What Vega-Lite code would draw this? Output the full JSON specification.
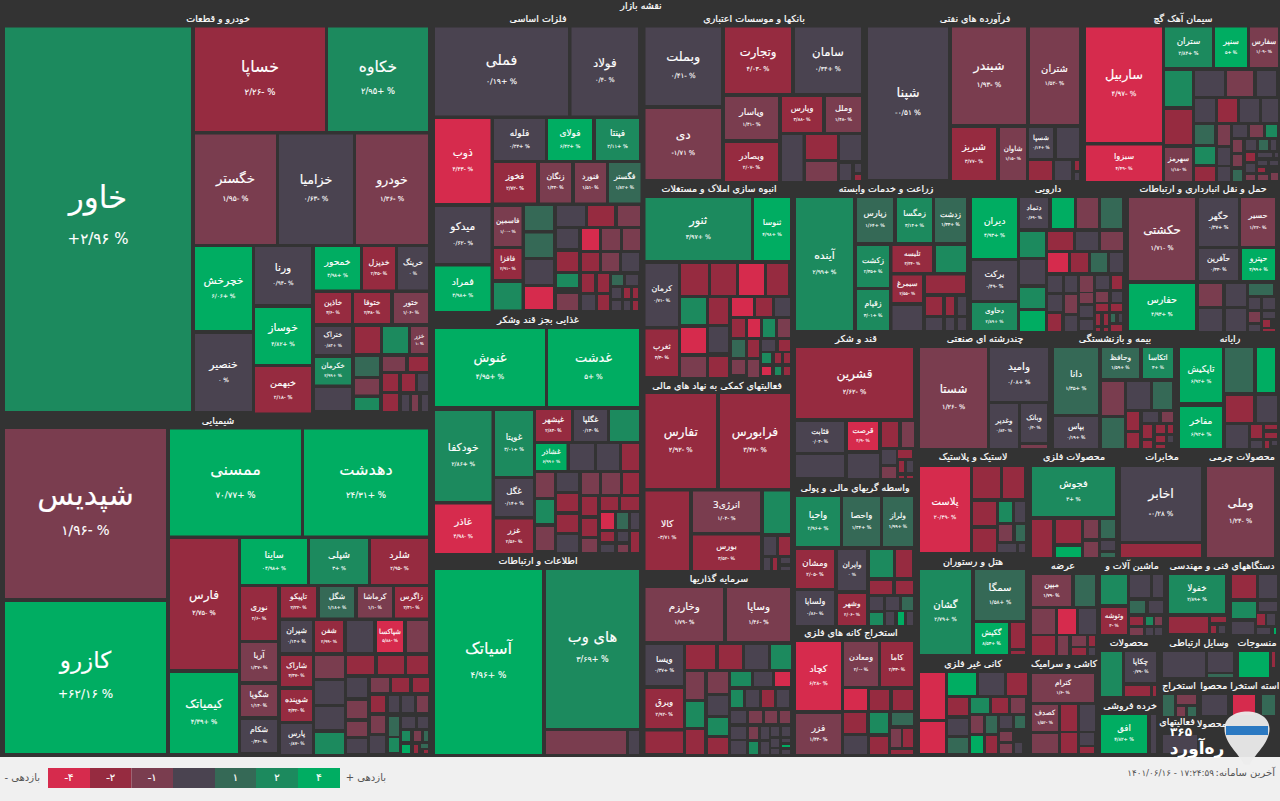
{"$schema":"https://vega.github.io/schema/vega-lite/v6.json","width":1280,"height":801,"padding":0,"autosize":{"type":"fit","contains":"padding"},"background":"#f0f0f0","view":{"stroke":null},
"resolve":{"scale":{"size":"independent"}},
"datasets":{
"panel":[{"x0":0,"x1":1280,"y0":0,"y1":757}],
"cells":[
{"x0":5,"x1":191,"y0":27.5,"y1":411,"c":2.96,"n":"خاور","p":"+۲/۹۶ %"},
{"x0":195,"x1":325,"y0":27.5,"y1":131,"c":-2.26,"n":"خساپا","p":"۲/۲۶- %"},
{"x0":328,"x1":428,"y0":27.5,"y1":131,"c":2.95,"n":"خکاوه","p":"۲/۹۵+ %"},
{"x0":195,"x1":276,"y0":134.5,"y1":244,"c":-1.95,"n":"خگستر","p":"۱/۹۵- %"},
{"x0":279,"x1":353,"y0":134.5,"y1":244,"c":-0.63,"n":"خزامیا","p":"۰/۶۳- %"},
{"x0":356,"x1":428,"y0":134.5,"y1":244,"c":-1.36,"n":"خودرو","p":"۱/۳۶- %"},
{"x0":195,"x1":252,"y0":247,"y1":330,"c":6.06,"n":"خچرخش","p":"۶/۰۶+ %"},
{"x0":195,"x1":252,"y0":334,"y1":411,"c":0,"n":"خنصیر","p":"۰ %"},
{"x0":255,"x1":311,"y0":247,"y1":304,"c":-0.94,"n":"ورنا","p":"۰/۹۴- %"},
{"x0":255,"x1":311,"y0":308,"y1":364,"c":4.82,"n":"خوساز","p":"۴/۸۲+ %"},
{"x0":255,"x1":311,"y0":367,"y1":412.5,"c":-2.18,"n":"خبهمن","p":"۲/۱۸- %"},
{"x0":315,"x1":360,"y0":247,"y1":289.5,"c":4.98,"n":"خمحور","p":"۴/۹۸+ %"},
{"x0":363,"x1":395,"y0":247,"y1":289.5,"c":-2.45,"n":"خدیزل","p":"۲/۴۵- %"},
{"x0":398,"x1":428,"y0":247,"y1":289.5,"c":0,"n":"خرینگ","p":"۰ %"},
{"x0":315,"x1":351,"y0":293,"y1":323,"c":-3.6,"n":"خاذین","p":"۳/۶- %"},
{"x0":354,"x1":390,"y0":293,"y1":323,"c":-2.38,"n":"ختوقا","p":"۲/۳۸- %"},
{"x0":394,"x1":428,"y0":293,"y1":323,"c":-1.06,"n":"ختور","p":"۱/۰۶- %"},
{"x0":315,"x1":351,"y0":327,"y1":354,"c":0.83,"n":"ختراک","p":"۰/۸۳+ %"},
{"x0":355,"x1":380,"y0":327,"y1":353,"c":-3},
{"x0":383,"x1":408,"y0":327,"y1":353,"c":3},
{"x0":411,"x1":428,"y0":327,"y1":353,"c":-1.1,"n":"خزر","p":"۱- %"},
{"x0":315,"x1":351,"y0":358,"y1":384.5,"c":2.99,"n":"خکرمان","p":"۲/۹۹+ %"},
{"x0":315,"x1":351,"y0":388,"y1":410,"c":0},
{"x0":355,"x1":379,"y0":357,"y1":376,"c":1.5},
{"x0":355,"x1":379,"y0":379,"y1":394.5,"c":-1.5},
{"x0":355,"x1":379,"y0":398,"y1":410,"c":3},
{"x0":383,"x1":405,"y0":357,"y1":371,"c":-1.5},
{"x0":409,"x1":428,"y0":357,"y1":371,"c":-3},
{"x0":383,"x1":398,"y0":374,"y1":391,"c":-3},
{"x0":402,"x1":415,"y0":374,"y1":391,"c":-3},
{"x0":418,"x1":428,"y0":374,"y1":391,"c":0},
{"x0":383,"x1":398,"y0":394,"y1":411,"c":-3},
{"x0":402,"x1":409,"y0":395,"y1":411,"c":0},
{"x0":412,"x1":418,"y0":395,"y1":411,"c":-1.5},
{"x0":422,"x1":428,"y0":395,"y1":411,"c":0},

{"x0":5,"x1":166,"y0":429,"y1":598,"c":-1.96,"n":"شپدیس","p":"۱/۹۶- %"},
{"x0":5,"x1":166,"y0":602,"y1":753,"c":62.16,"n":"کازرو","p":"+۶۲/۱۶ %"},
{"x0":170,"x1":301,"y0":429.5,"y1":535.5,"c":70.77,"n":"ممسنی","p":"۷۰/۷۷+ %"},
{"x0":304,"x1":428,"y0":429.5,"y1":535.5,"c":24.31,"n":"دهدشت","p":"۲۴/۳۱+ %"},
{"x0":170,"x1":238,"y0":539,"y1":669,"c":-2.75,"n":"فارس","p":"۲/۷۵- %"},
{"x0":170,"x1":238,"y0":673,"y1":753,"c":4.39,"n":"کیمیاتک","p":"۴/۳۹+ %"},
{"x0":241,"x1":307,"y0":539,"y1":584,"c":4.98,"n":"ساینا","p":"۰۴/۹۸+ %"},
{"x0":310,"x1":368,"y0":539,"y1":584,"c":3,"n":"شپلی","p":"۳+ %"},
{"x0":371,"x1":428,"y0":539,"y1":584,"c":-2.95,"n":"شلرد","p":"۲/۹۵- %"},
{"x0":241,"x1":277,"y0":587,"y1":640,"c":-2.6,"n":"نوری","p":"۲/۶- %"},
{"x0":281,"x1":316,"y0":587,"y1":617.5,"c":-2.22,"n":"تاپیکو","p":"۲/۲۲- %"},
{"x0":320,"x1":354,"y0":587,"y1":617.5,"c":1.18,"n":"شگل","p":"۱/۱۸+ %"},
{"x0":358,"x1":392,"y0":587,"y1":617.5,"c":-1.1,"n":"کرماشا","p":"۱/۱- %"},
{"x0":395,"x1":428,"y0":587,"y1":617.5,"c":-2.41,"n":"زاگرس","p":"۲/۴۱- %"},
{"x0":281,"x1":312,"y0":621,"y1":652,"c":0.14,"n":"شیران","p":"۰/۱۴+ %"},
{"x0":315,"x1":343,"y0":621,"y1":652,"c":-2.99,"n":"شفن","p":"۲/۹۹- %"},
{"x0":347,"x1":373,"y0":621,"y1":652,"c":0},
{"x0":377,"x1":403,"y0":621,"y1":652,"c":-5.88,"n":"شپاکسا","p":"۵/۸۸- %"},
{"x0":407,"x1":428,"y0":621,"y1":652,"c":-1.5},
{"x0":241,"x1":277,"y0":643,"y1":681,"c":-1.37,"n":"آریا","p":"۱/۳۷- %"},
{"x0":241,"x1":277,"y0":685,"y1":716,"c":-1.14,"n":"شگویا","p":"۱/۱۴- %"},
{"x0":241,"x1":277,"y0":720,"y1":752,"c":-0.36,"n":"شکام","p":"۰/۳۶- %"},
{"x0":281,"x1":312,"y0":656,"y1":686,"c":-3.47,"n":"شاراک","p":"۳/۴۷- %"},
{"x0":281,"x1":312,"y0":690,"y1":721,"c":-3.32,"n":"شوینده","p":"۳/۳۲- %"},
{"x0":281,"x1":312,"y0":724,"y1":754,"c":-0.87,"n":"پارس","p":"۰/۸۷- %"},
{"x0":315,"x1":344,"y0":656,"y1":678,"c":-1.5},
{"x0":315,"x1":344,"y0":681,"y1":704,"c":0},
{"x0":315,"x1":344,"y0":707,"y1":729,"c":0},
{"x0":315,"x1":344,"y0":733,"y1":754,"c":3},
{"x0":347,"x1":374,"y0":656,"y1":674,"c":-3},
{"x0":378,"x1":404,"y0":656,"y1":674,"c":-3},
{"x0":407,"x1":428,"y0":656,"y1":674,"c":-3},
{"x0":347,"x1":367,"y0":678,"y1":697,"c":0},
{"x0":371,"x1":389,"y0":678,"y1":692,"c":-1.5},
{"x0":392,"x1":409,"y0":678,"y1":692,"c":-3},
{"x0":413,"x1":429,"y0":678,"y1":692,"c":-3},
{"x0":347,"x1":367,"y0":701,"y1":718,"c":-1.5},
{"x0":347,"x1":367,"y0":722,"y1":736,"c":-1.5},
{"x0":347,"x1":367,"y0":739,"y1":753,"c":0},
{"x0":371,"x1":385,"y0":696,"y1":712,"c":-3},
{"x0":389,"x1":399,"y0":696,"y1":712,"c":0},
{"x0":402,"x1":414,"y0":696,"y1":712,"c":0},
{"x0":417,"x1":428,"y0":696,"y1":712,"c":-1.5},
{"x0":371,"x1":385,"y0":716,"y1":733,"c":-1.5},
{"x0":370,"x1":385,"y0":736,"y1":753,"c":0},
{"x0":389,"x1":399,"y0":717,"y1":736,"c":1.5},
{"x0":389,"x1":399,"y0":738,"y1":752,"c":3},
{"x0":402,"x1":415,"y0":717,"y1":728,"c":0},
{"x0":418,"x1":428,"y0":717,"y1":728,"c":0},
{"x0":402,"x1":410,"y0":731,"y1":741,"c":3},
{"x0":414,"x1":421,"y0":731,"y1":741,"c":-1.5},
{"x0":424,"x1":428,"y0":731,"y1":741,"c":1.5},
{"x0":402,"x1":410,"y0":745,"y1":753,"c":5},
{"x0":414,"x1":418,"y0":745,"y1":753,"c":-3},
{"x0":421,"x1":428,"y0":744,"y1":748,"c":1.5},
{"x0":424,"x1":428,"y0":750,"y1":753,"c":-3},

{"x0":435,"x1":568,"y0":27.5,"y1":115.5,"c":0.19,"n":"فملی","p":"۰/۱۹+ %"},
{"x0":571.5,"x1":638,"y0":27.5,"y1":115.5,"c":-0.4,"n":"فولاد","p":"۰/۴- %"},
{"x0":435,"x1":490.5,"y0":119,"y1":203,"c":-4.43,"n":"ذوب","p":"۴/۴۳- %"},
{"x0":494,"x1":545,"y0":119,"y1":160,"c":0.34,"n":"فلوله","p":"۰/۳۴+ %"},
{"x0":548,"x1":592,"y0":119,"y1":160,"c":6.42,"n":"فولای","p":"۶/۴۲+ %"},
{"x0":596,"x1":639,"y0":119,"y1":160,"c":2.11,"n":"فپنتا","p":"۲/۱۱+ %"},
{"x0":494,"x1":536,"y0":163,"y1":202.5,"c":-2.72,"n":"فخوز","p":"۲/۷۲- %"},
{"x0":540,"x1":571,"y0":163,"y1":202.5,"c":-1.44,"n":"زنگان","p":"۱/۴۴- %"},
{"x0":575,"x1":606,"y0":163,"y1":202.5,"c":-1.51,"n":"فنورد","p":"۱/۵۱- %"},
{"x0":609,"x1":640.5,"y0":163,"y1":202.5,"c":1.82,"n":"فگستر","p":"۱/۸۲+ %"},
{"x0":435,"x1":490.5,"y0":207,"y1":263,"c":-0.62,"n":"میدکو","p":"۰/۶۲- %"},
{"x0":435,"x1":490.5,"y0":266.5,"y1":311,"c":4.98,"n":"فمراد","p":"۴/۹۸+ %"},
{"x0":494,"x1":521.5,"y0":207,"y1":246,"c":-1.1,"n":"فاسمین","p":"۱/۰۰- %"},
{"x0":494,"x1":521.5,"y0":249,"y1":279,"c":-2.91,"n":"فافزا","p":"۲/۹۱- %"},
{"x0":494,"x1":521.5,"y0":283,"y1":309.5,"c":3},
{"x0":525,"x1":553,"y0":206,"y1":230,"c":1.5},
{"x0":525,"x1":553,"y0":233.5,"y1":257,"c":1.5},
{"x0":525,"x1":553,"y0":260,"y1":284,"c":0},
{"x0":525,"x1":553,"y0":287,"y1":309,"c":-5},
{"x0":557,"x1":585,"y0":206,"y1":226,"c":0},
{"x0":588,"x1":614,"y0":206,"y1":226,"c":-3},
{"x0":618,"x1":640,"y0":206,"y1":226,"c":-1.5},
{"x0":557,"x1":578,"y0":229,"y1":248,"c":0},
{"x0":582,"x1":599,"y0":229,"y1":250,"c":-5},
{"x0":602,"x1":620,"y0":229,"y1":250,"c":-1.5},
{"x0":623,"x1":640,"y0":229,"y1":250,"c":-1.5},
{"x0":557,"x1":578,"y0":252,"y1":271,"c":-3},
{"x0":582,"x1":599,"y0":253,"y1":271,"c":-3},
{"x0":602,"x1":619,"y0":253,"y1":271,"c":-1.5},
{"x0":622,"x1":639,"y0":253,"y1":271,"c":0},
{"x0":557,"x1":578,"y0":274,"y1":287,"c":3},
{"x0":582,"x1":594,"y0":274,"y1":292,"c":-3},
{"x0":598,"x1":609,"y0":274,"y1":292,"c":-3},
{"x0":612,"x1":623,"y0":275,"y1":285,"c":1.5},
{"x0":626,"x1":638,"y0":275,"y1":285,"c":0},
{"x0":557,"x1":578,"y0":294,"y1":310,"c":-1.5},
{"x0":582,"x1":595,"y0":295,"y1":310,"c":0},
{"x0":598,"x1":609,"y0":295,"y1":310,"c":-3},
{"x0":612,"x1":621,"y0":288,"y1":298,"c":0},
{"x0":624,"x1":630,"y0":288,"y1":298,"c":-3},
{"x0":633,"x1":638,"y0":288,"y1":298,"c":-3},
{"x0":612,"x1":621,"y0":301,"y1":310,"c":0},
{"x0":624,"x1":630,"y0":301,"y1":310,"c":0},
{"x0":633,"x1":638,"y0":301,"y1":310,"c":-3},

{"x0":435,"x1":545,"y0":329,"y1":406,"c":4.95,"n":"غنوش","p":"۴/۹۵+ %"},
{"x0":548,"x1":639,"y0":329,"y1":406,"c":5,"n":"غدشت","p":"۵+ %"},
{"x0":435,"x1":491.5,"y0":411,"y1":501,"c":2.86,"n":"خودکفا","p":"۲/۸۶+ %"},
{"x0":435,"x1":491.5,"y0":504.5,"y1":553,"c":-4.98,"n":"غاذر","p":"۴/۹۸- %"},
{"x0":495,"x1":533,"y0":411,"y1":476,"c":3.01,"n":"غویتا","p":"۳/۰۱+ %"},
{"x0":495,"x1":533,"y0":479,"y1":516,"c":0.14,"n":"غگل","p":"۰/۱۴+ %"},
{"x0":495,"x1":533,"y0":519.5,"y1":553,"c":-2.56,"n":"غزر","p":"۲/۵۶- %"},
{"x0":536,"x1":571,"y0":410,"y1":441,"c":-2.84,"n":"غیشهر","p":"۲/۸۴- %"},
{"x0":574,"x1":607,"y0":410,"y1":441,"c":-0.13,"n":"غگلپا","p":"۰/۱۳- %"},
{"x0":610,"x1":639,"y0":410,"y1":441,"c":3},
{"x0":536,"x1":566.5,"y0":444,"y1":470,"c":6.99,"n":"غشاذر","p":"۶/۹۹+ %"},
{"x0":570,"x1":594,"y0":444,"y1":470,"c":0},
{"x0":597,"x1":619,"y0":444,"y1":470,"c":0},
{"x0":622,"x1":639,"y0":444,"y1":470,"c":-3},
{"x0":536,"x1":554,"y0":473,"y1":497,"c":-1.5},
{"x0":557,"x1":578,"y0":473,"y1":491,"c":0},
{"x0":582,"x1":599,"y0":473,"y1":494,"c":-1.5},
{"x0":602,"x1":620,"y0":473,"y1":494,"c":-1.5},
{"x0":623,"x1":639,"y0":473,"y1":494,"c":-3},
{"x0":536,"x1":554,"y0":500,"y1":523,"c":3},
{"x0":557,"x1":578,"y0":494,"y1":511,"c":-3},
{"x0":582,"x1":597,"y0":497,"y1":515,"c":-3},
{"x0":601,"x1":618,"y0":497,"y1":510,"c":-3},
{"x0":621,"x1":639,"y0":497,"y1":510,"c":-3},
{"x0":536,"x1":554,"y0":527,"y1":550,"c":-1.5},
{"x0":557,"x1":578,"y0":515,"y1":532,"c":-3},
{"x0":557,"x1":578,"y0":535,"y1":552,"c":0},
{"x0":582,"x1":597,"y0":519,"y1":536,"c":-3},
{"x0":582,"x1":597,"y0":539,"y1":552,"c":-1.5},
{"x0":601,"x1":614,"y0":513,"y1":529,"c":-5},
{"x0":617,"x1":628,"y0":513,"y1":529,"c":1.5},
{"x0":631,"x1":639,"y0":513,"y1":529,"c":0},
{"x0":601,"x1":614,"y0":532,"y1":541,"c":-3},
{"x0":618,"x1":628,"y0":532,"y1":541,"c":0},
{"x0":631,"x1":639,"y0":532,"y1":552,"c":-3},
{"x0":601,"x1":614,"y0":545,"y1":552,"c":0},
{"x0":618,"x1":628,"y0":545,"y1":552,"c":-1.5},

{"x0":435,"x1":542,"y0":570,"y1":754,"c":4.96,"n":"آسیاتک","p":"۴/۹۶+ %"},
{"x0":546,"x1":639,"y0":570,"y1":728,"c":3.69,"n":"های وب","p":"۳/۶۹+ %"},
{"x0":546,"x1":626,"y0":731,"y1":754,"c":-1.5},
{"x0":629,"x1":639,"y0":731,"y1":754,"c":0},

{"x0":645.5,"x1":721,"y0":27.5,"y1":105,"c":-0.41,"n":"وبملت","p":"۰/۴۱- %"},
{"x0":645.5,"x1":721,"y0":109,"y1":179,"c":-1.71,"n":"دی","p":"-۱/۷۱ %"},
{"x0":725,"x1":791,"y0":27.5,"y1":93,"c":-3.03,"n":"وتجارت","p":"۴/۰۳- %"},
{"x0":795,"x1":861,"y0":27.5,"y1":93,"c":0.34,"n":"سامان","p":"۰/۳۴+ %"},
{"x0":725,"x1":778,"y0":97,"y1":139,"c":-1.41,"n":"ویاسار","p":"۱/۴۱- %"},
{"x0":782,"x1":822,"y0":97,"y1":132,"c":-3.88,"n":"وپارس","p":"۳/۸۸- %"},
{"x0":826,"x1":861,"y0":97,"y1":132,"c":-1.48,"n":"وملل","p":"۱/۴۸- %"},
{"x0":725,"x1":778,"y0":143,"y1":181,"c":-2.07,"n":"وبصادر","p":"۲/۰۷- %"},
{"x0":782,"x1":802.5,"y0":135,"y1":181,"c":0},
{"x0":806,"x1":837,"y0":135,"y1":159,"c":-3},
{"x0":840,"x1":861,"y0":135,"y1":160,"c":0},
{"x0":806,"x1":837,"y0":162,"y1":181,"c":-1.5},
{"x0":840,"x1":851,"y0":164,"y1":180,"c":0},
{"x0":855,"x1":861,"y0":164,"y1":172,"c":0},
{"x0":855,"x1":861,"y0":175,"y1":180,"c":-3},

{"x0":645.5,"x1":751,"y0":198,"y1":260,"c":3.97,"n":"ثنور","p":"۳/۹۷+ %"},
{"x0":754,"x1":790,"y0":198,"y1":260,"c":4.98,"n":"ثنوسا","p":"۴/۹۸+ %"},
{"x0":645.5,"x1":678,"y0":264,"y1":326,"c":-0.71,"n":"کرمان","p":"۰/۷۱- %"},
{"x0":645.5,"x1":678,"y0":329.5,"y1":376,"c":-3.3,"n":"ثغرب","p":"۳/۳- %"},
{"x0":681,"x1":708,"y0":264,"y1":295,"c":-3},
{"x0":711,"x1":736,"y0":264,"y1":295,"c":-3},
{"x0":739,"x1":764,"y0":264,"y1":295,"c":-5},
{"x0":767,"x1":788,"y0":264,"y1":295,"c":-3},
{"x0":681,"x1":706,"y0":298,"y1":324,"c":3},
{"x0":709,"x1":728,"y0":298,"y1":324,"c":-3},
{"x0":732,"x1":753,"y0":298,"y1":316,"c":-5},
{"x0":756,"x1":772,"y0":298,"y1":316,"c":-3},
{"x0":775,"x1":790,"y0":298,"y1":316,"c":0},
{"x0":681,"x1":706,"y0":328,"y1":353,"c":-5},
{"x0":709,"x1":728,"y0":327,"y1":352,"c":0},
{"x0":732,"x1":745,"y0":319,"y1":337,"c":-3},
{"x0":748,"x1":760,"y0":319,"y1":337,"c":-5},
{"x0":763,"x1":775,"y0":319,"y1":337,"c":3},
{"x0":778,"x1":790,"y0":319,"y1":337,"c":-1.5},
{"x0":732,"x1":745,"y0":340,"y1":357,"c":1.5},
{"x0":748,"x1":759,"y0":340,"y1":357,"c":-3},
{"x0":762,"x1":775,"y0":340,"y1":351,"c":0},
{"x0":779,"x1":790,"y0":340,"y1":351,"c":-3},
{"x0":681,"x1":706,"y0":357,"y1":377,"c":-1.5},
{"x0":709,"x1":728,"y0":357,"y1":377,"c":-3},
{"x0":732,"x1":745,"y0":360,"y1":374,"c":-1.5},
{"x0":748,"x1":759,"y0":360,"y1":377,"c":-1.5},
{"x0":762,"x1":771,"y0":353,"y1":363,"c":3},
{"x0":775,"x1":781,"y0":353,"y1":363,"c":-3},
{"x0":784,"x1":790,"y0":353,"y1":363,"c":-3},
{"x0":762,"x1":771,"y0":367,"y1":375,"c":-5},
{"x0":775,"x1":781,"y0":367,"y1":375,"c":3},
{"x0":784,"x1":790,"y0":367,"y1":375,"c":-3},

{"x0":645.5,"x1":716,"y0":394,"y1":488,"c":-2.92,"n":"تفارس","p":"۲/۹۲- %"},
{"x0":720,"x1":790,"y0":394,"y1":488,"c":-3.47,"n":"فرابورس","p":"۳/۴۷- %"},
{"x0":645.5,"x1":689,"y0":491.5,"y1":570,"c":-3.71,"n":"کالا","p":"-۳/۷۱ %"},
{"x0":693,"x1":760,"y0":491.5,"y1":532,"c":-1.04,"n":"انرژی3","p":"۱/۰۴- %"},
{"x0":764,"x1":790,"y0":491.5,"y1":533,"c":3},
{"x0":693,"x1":760,"y0":535.5,"y1":570,"c":-3.52,"n":"بورس","p":"۳/۵۲- %"},
{"x0":764,"x1":776,"y0":537,"y1":555,"c":0},
{"x0":779,"x1":790,"y0":537,"y1":555,"c":-3},
{"x0":764,"x1":770,"y0":558,"y1":570,"c":0},
{"x0":773,"x1":777,"y0":558,"y1":570,"c":-3},
{"x0":781,"x1":790,"y0":558,"y1":563,"c":0},
{"x0":781,"x1":790,"y0":567,"y1":570,"c":0},

{"x0":645.5,"x1":723,"y0":588,"y1":641,"c":-1.79,"n":"وخارزم","p":"۱/۷۹- %"},
{"x0":727,"x1":790,"y0":588,"y1":641,"c":-1.46,"n":"وساپا","p":"۱/۴۶- %"},
{"x0":645.5,"x1":683,"y0":645,"y1":685,"c":0.37,"n":"ویسا","p":"۰/۳۷+ %"},
{"x0":645.5,"x1":683,"y0":689,"y1":728,"c":-2.92,"n":"وبرق","p":"۲/۹۲- %"},
{"x0":645.5,"x1":683,"y0":731.5,"y1":753,"c":-3},
{"x0":686,"x1":715,"y0":645,"y1":669,"c":-3},
{"x0":719,"x1":742,"y0":645,"y1":669,"c":-3},
{"x0":745,"x1":768,"y0":645,"y1":669,"c":0},
{"x0":771,"x1":791,"y0":645,"y1":669,"c":3},
{"x0":686,"x1":704,"y0":672,"y1":699,"c":-1.5},
{"x0":708,"x1":728,"y0":672,"y1":693,"c":-1.5},
{"x0":731,"x1":751,"y0":672,"y1":686,"c":3},
{"x0":754,"x1":772,"y0":672,"y1":686,"c":0},
{"x0":775,"x1":790,"y0":672,"y1":686,"c":-5},
{"x0":686,"x1":704,"y0":702,"y1":727,"c":3},
{"x0":686,"x1":704,"y0":730,"y1":754,"c":-3},
{"x0":708,"x1":728,"y0":696,"y1":715,"c":0},
{"x0":708,"x1":728,"y0":718,"y1":735,"c":3},
{"x0":708,"x1":728,"y0":738,"y1":754,"c":-3},
{"x0":731,"x1":743,"y0":690,"y1":707,"c":3},
{"x0":746,"x1":759,"y0":690,"y1":707,"c":0},
{"x0":762,"x1":774,"y0":690,"y1":707,"c":-3},
{"x0":777,"x1":789,"y0":690,"y1":707,"c":0},
{"x0":731,"x1":746,"y0":711,"y1":723,"c":0},
{"x0":749,"x1":762,"y0":711,"y1":723,"c":-1.5},
{"x0":765,"x1":777,"y0":711,"y1":723,"c":-1.5},
{"x0":780,"x1":790,"y0":711,"y1":723,"c":-1.5},
{"x0":731,"x1":746,"y0":727,"y1":739,"c":0},
{"x0":749,"x1":758,"y0":727,"y1":739,"c":-1.5},
{"x0":761,"x1":769,"y0":727,"y1":739,"c":0},
{"x0":771,"x1":779,"y0":727,"y1":736,"c":0},
{"x0":782,"x1":790,"y0":727,"y1":736,"c":0},
{"x0":731,"x1":746,"y0":741,"y1":754,"c":0},
{"x0":749,"x1":758,"y0":742,"y1":754,"c":3},
{"x0":761,"x1":769,"y0":742,"y1":754,"c":0},
{"x0":771,"x1":779,"y0":739,"y1":747,"c":0},
{"x0":771,"x1":779,"y0":749,"y1":754,"c":0},
{"x0":782,"x1":790,"y0":739,"y1":742,"c":0},
{"x0":782,"x1":790,"y0":745,"y1":747,"c":5},
{"x0":782,"x1":790,"y0":750,"y1":754,"c":0},

{"x0":796,"x1":853,"y0":198,"y1":330,"c":2.99,"n":"آینده","p":"۲/۹۹+ %"},
{"x0":857,"x1":893,"y0":198,"y1":242,"c":1.64,"n":"زپارس","p":"۱/۶۴+ %"},
{"x0":897,"x1":932,"y0":198,"y1":242,"c":3.14,"n":"زمگسا","p":"۳/۱۴+ %"},
{"x0":935,"x1":966,"y0":198,"y1":242,"c":1.33,"n":"زدشت","p":"۱/۳۳+ %"},
{"x0":857,"x1":889,"y0":246,"y1":287,"c":2.35,"n":"زکشت","p":"۲/۳۵+ %"},
{"x0":857,"x1":889,"y0":290,"y1":330,"c":3.01,"n":"زقیام","p":"۳/۰۱+ %"},
{"x0":892.5,"x1":932,"y0":246,"y1":272,"c":-3.34,"n":"تلیسه","p":"۳/۳۴- %"},
{"x0":936,"x1":966,"y0":246,"y1":272,"c":3},
{"x0":892.5,"x1":922,"y0":275.5,"y1":302,"c":-2.55,"n":"سیمرغ","p":"۲/۵۵- %"},
{"x0":926,"x1":965,"y0":275.5,"y1":293,"c":-3},
{"x0":892.5,"x1":922,"y0":306,"y1":330,"c":0},
{"x0":926,"x1":942,"y0":297,"y1":315,"c":-3},
{"x0":946,"x1":954,"y0":297,"y1":315,"c":-3},
{"x0":958,"x1":966,"y0":297,"y1":315,"c":0},
{"x0":926,"x1":942,"y0":318,"y1":330,"c":0},
{"x0":946,"x1":954,"y0":318,"y1":330,"c":0},
{"x0":958,"x1":966,"y0":318,"y1":330,"c":0},

{"x0":972,"x1":1017,"y0":198,"y1":258,"c":4.93,"n":"دیران","p":"۴/۹۳+ %"},
{"x0":972,"x1":1017,"y0":261,"y1":300,"c":-0.49,"n":"برکت","p":"۰/۴۹- %"},
{"x0":972,"x1":1017,"y0":303,"y1":330,"c":2.89,"n":"دحاوی","p":"۲/۸۹+ %"},
{"x0":1020,"x1":1048,"y0":198,"y1":228,"c":-0.69,"n":"دتماد","p":"۰/۶۹- %"},
{"x0":1052,"x1":1074,"y0":198,"y1":228,"c":5},
{"x0":1077,"x1":1098,"y0":198,"y1":228,"c":-1.5},
{"x0":1101,"x1":1122,"y0":198,"y1":228,"c":1.5},
{"x0":1020,"x1":1045,"y0":232,"y1":257,"c":3},
{"x0":1048,"x1":1073,"y0":232,"y1":250,"c":-3},
{"x0":1076,"x1":1098,"y0":232,"y1":250,"c":0},
{"x0":1101,"x1":1123,"y0":232,"y1":250,"c":-1.5},
{"x0":1048,"x1":1068,"y0":253,"y1":272,"c":-5},
{"x0":1071,"x1":1088,"y0":253,"y1":272,"c":-3},
{"x0":1091,"x1":1107,"y0":253,"y1":272,"c":1.5},
{"x0":1110,"x1":1123,"y0":253,"y1":272,"c":0},
{"x0":1020,"x1":1045,"y0":260,"y1":284,"c":0},
{"x0":1020,"x1":1045,"y0":288,"y1":308,"c":3},
{"x0":1020,"x1":1045,"y0":311,"y1":331,"c":5},
{"x0":1048,"x1":1062,"y0":276,"y1":292,"c":0},
{"x0":1065,"x1":1077,"y0":276,"y1":292,"c":0},
{"x0":1080,"x1":1093,"y0":276,"y1":292,"c":-1.5},
{"x0":1096,"x1":1109,"y0":276,"y1":289,"c":0},
{"x0":1112,"x1":1122,"y0":276,"y1":289,"c":-3},
{"x0":1048,"x1":1062,"y0":295,"y1":311,"c":0},
{"x0":1065,"x1":1077,"y0":295,"y1":313,"c":-1.5},
{"x0":1080,"x1":1093,"y0":293,"y1":303,"c":-1.5},
{"x0":1096,"x1":1108,"y0":292,"y1":302,"c":-1.5},
{"x0":1112,"x1":1122,"y0":292,"y1":302,"c":0},
{"x0":1048,"x1":1061,"y0":314,"y1":331,"c":-3},
{"x0":1065,"x1":1077,"y0":316,"y1":331,"c":0},
{"x0":1080,"x1":1093,"y0":306,"y1":317,"c":0},
{"x0":1080,"x1":1093,"y0":320,"y1":330,"c":0},
{"x0":1096,"x1":1108,"y0":304,"y1":311,"c":-3},
{"x0":1111,"x1":1122,"y0":304,"y1":311,"c":-3},
{"x0":1096,"x1":1100,"y0":314,"y1":325,"c":-3},
{"x0":1104,"x1":1108,"y0":314,"y1":325,"c":-3},
{"x0":1111,"x1":1115,"y0":314,"y1":322,"c":1.5},
{"x0":1119,"x1":1122,"y0":314,"y1":322,"c":0},
{"x0":1096,"x1":1100,"y0":328,"y1":331,"c":-3},
{"x0":1104,"x1":1108,"y0":328,"y1":331,"c":-3},
{"x0":1111,"x1":1122,"y0":325,"y1":331,"c":-3},

{"x0":1086,"x1":1162,"y0":27.5,"y1":142,"c":-4.97,"n":"ساربیل","p":"۴/۹۷- %"},
{"x0":1086,"x1":1162,"y0":145.5,"y1":181,"c":-4.49,"n":"سبزوا","p":"۴/۴۹- %"},
{"x0":1165,"x1":1212,"y0":27.5,"y1":67,"c":2.84,"n":"ستران","p":"۲/۸۴+ %"},
{"x0":1215,"x1":1247,"y0":27.5,"y1":67,"c":5,"n":"سنیر","p":"۵+ %"},
{"x0":1250,"x1":1278,"y0":27.5,"y1":67,"c":-1.09,"n":"سفارس","p":"۱/۰۹- %"},
{"x0":1165,"x1":1192,"y0":71,"y1":106,"c":3},
{"x0":1165,"x1":1192,"y0":110,"y1":144,"c":-3},
{"x0":1165,"x1":1192,"y0":148,"y1":181,"c":-1.18,"n":"سهرمز","p":"۱/۱۸- %"},
{"x0":1195,"x1":1215,"y0":147,"y1":164,"c":3},
{"x0":1195,"x1":1215,"y0":167,"y1":181,"c":-3},
{"x0":1195,"x1":1224,"y0":71,"y1":96,"c":0},
{"x0":1227,"x1":1253,"y0":71,"y1":96,"c":-1.5},
{"x0":1257,"x1":1276,"y0":71,"y1":96,"c":0},
{"x0":1195,"x1":1215,"y0":99,"y1":122,"c":0},
{"x0":1218,"x1":1237,"y0":99,"y1":122,"c":-3},
{"x0":1240,"x1":1259,"y0":99,"y1":122,"c":0},
{"x0":1262,"x1":1278,"y0":99,"y1":122,"c":0},
{"x0":1195,"x1":1214,"y0":125,"y1":144,"c":1.5},
{"x0":1218,"x1":1230,"y0":125,"y1":145,"c":-1.5},
{"x0":1233,"x1":1247,"y0":125,"y1":137,"c":0},
{"x0":1250,"x1":1263,"y0":125,"y1":137,"c":-1.5},
{"x0":1266,"x1":1277,"y0":125,"y1":137,"c":3},
{"x0":1233,"x1":1242,"y0":140,"y1":152,"c":-1.5},
{"x0":1246,"x1":1256,"y0":140,"y1":150,"c":0},
{"x0":1259,"x1":1268,"y0":140,"y1":150,"c":1.5},
{"x0":1271,"x1":1276,"y0":140,"y1":150,"c":0},
{"x0":1218,"x1":1230,"y0":148,"y1":165,"c":0},
{"x0":1233,"x1":1242,"y0":155,"y1":166,"c":-1.5},
{"x0":1246,"x1":1255,"y0":153,"y1":161,"c":-3},
{"x0":1258,"x1":1272,"y0":153,"y1":157,"c":0},
{"x0":1275,"x1":1278,"y0":153,"y1":157,"c":0},
{"x0":1246,"x1":1255,"y0":164,"y1":172,"c":0},
{"x0":1258,"x1":1267,"y0":161,"y1":165,"c":0},
{"x0":1270,"x1":1278,"y0":161,"y1":165,"c":0},
{"x0":1218,"x1":1230,"y0":167,"y1":181,"c":0},
{"x0":1233,"x1":1242,"y0":170,"y1":181,"c":1.5},
{"x0":1246,"x1":1255,"y0":175,"y1":180,"c":-1.5},
{"x0":1258,"x1":1265,"y0":168,"y1":172,"c":-3},
{"x0":1258,"x1":1268,"y0":175,"y1":180,"c":-1.5},
{"x0":1271,"x1":1278,"y0":173,"y1":180,"c":-1.5},

{"x0":868,"x1":948,"y0":27.5,"y1":179,"c":-0.51,"n":"شپنا","p":"-۰/۵۱ %"},
{"x0":952,"x1":1026,"y0":27.5,"y1":124,"c":-1.93,"n":"شبندر","p":"۱/۹۳- %"},
{"x0":1030,"x1":1079,"y0":27.5,"y1":124,"c":-1.52,"n":"شتران","p":"۱/۵۲- %"},
{"x0":952,"x1":996,"y0":128,"y1":180,"c":-3.77,"n":"شبریز","p":"۳/۷۷- %"},
{"x0":1000,"x1":1026,"y0":128,"y1":180,"c":-1.15,"n":"شاوان","p":"۱/۱۵- %"},
{"x0":1029,"x1":1053,"y0":128,"y1":158,"c":0.14,"n":"شسپا","p":"۰/۱۴+ %"},
{"x0":1057,"x1":1079,"y0":128,"y1":158,"c":0},
{"x0":1029,"x1":1052,"y0":161,"y1":180,"c":-3},
{"x0":1055,"x1":1071,"y0":161,"y1":180,"c":0},
{"x0":1075,"x1":1079,"y0":161,"y1":170,"c":-3},
{"x0":1075,"x1":1079,"y0":173,"y1":180,"c":0},

{"x0":1129,"x1":1195,"y0":198,"y1":280,"c":-1.71,"n":"حکشتی","p":"۱/۷۱- %"},
{"x0":1129,"x1":1195,"y0":284,"y1":330,"c":4.93,"n":"حفارس","p":"۴/۹۳+ %"},
{"x0":1199,"x1":1238,"y0":198,"y1":246,"c":0.37,"n":"حگهر","p":"۰/۳۷+ %"},
{"x0":1241,"x1":1275,"y0":198,"y1":246,"c":-1.22,"n":"حسیر","p":"۱/۲۲- %"},
{"x0":1199,"x1":1238,"y0":249,"y1":280,"c":-0.33,"n":"حآفرین","p":"۰/۳۳- %"},
{"x0":1242,"x1":1275,"y0":249,"y1":280,"c":4.99,"n":"حپترو","p":"۴/۹۹+ %"},
{"x0":1199,"x1":1222,"y0":284,"y1":306,"c":-1.5},
{"x0":1226,"x1":1246,"y0":284,"y1":306,"c":0},
{"x0":1249,"x1":1273,"y0":284,"y1":295,"c":1.5},
{"x0":1199,"x1":1222,"y0":309,"y1":331,"c":0},
{"x0":1226,"x1":1246,"y0":309,"y1":331,"c":0},
{"x0":1249,"x1":1260,"y0":298,"y1":309,"c":0},
{"x0":1263,"x1":1275,"y0":298,"y1":309,"c":0},
{"x0":1249,"x1":1260,"y0":312,"y1":322,"c":-1.5},
{"x0":1263,"x1":1275,"y0":312,"y1":318,"c":0},
{"x0":1263,"x1":1270,"y0":320,"y1":327,"c":-3},
{"x0":1249,"x1":1260,"y0":325,"y1":331,"c":0},
{"x0":1263,"x1":1275,"y0":329,"y1":331,"c":-3},

{"x0":796,"x1":913,"y0":348,"y1":418,"c":-2.62,"n":"قشرین","p":"۲/۶۲- %"},
{"x0":796,"x1":844,"y0":422,"y1":452,"c":-0.04,"n":"قثابت","p":"۰/۰۴- %"},
{"x0":848,"x1":878,"y0":422,"y1":450,"c":-4.9,"n":"قرصت","p":"۴/۹- %"},
{"x0":882,"x1":898,"y0":422,"y1":447,"c":-3},
{"x0":902,"x1":914,"y0":422,"y1":447,"c":-1.5},
{"x0":796,"x1":844,"y0":455,"y1":477,"c":0},
{"x0":848,"x1":879,"y0":454,"y1":478,"c":0},
{"x0":882,"x1":896,"y0":450,"y1":464,"c":0},
{"x0":898,"x1":912,"y0":450,"y1":458,"c":-3},
{"x0":882,"x1":896,"y0":467,"y1":478,"c":-1.5},
{"x0":899,"x1":904,"y0":461,"y1":472,"c":-3},
{"x0":907,"x1":913,"y0":461,"y1":472,"c":0},
{"x0":899,"x1":904,"y0":476,"y1":478,"c":-3},
{"x0":907,"x1":913,"y0":476,"y1":478,"c":-3},

{"x0":796,"x1":840,"y0":497,"y1":546,"c":2.96,"n":"واحیا","p":"۲/۹۶+ %"},
{"x0":843,"x1":880,"y0":497,"y1":546,"c":1.34,"n":"واحصا","p":"۱/۳۴+ %"},
{"x0":883,"x1":913,"y0":497,"y1":546,"c":1.99,"n":"ولراز","p":"۱/۹۹+ %"},
{"x0":796,"x1":834,"y0":550,"y1":588,"c":-2.05,"n":"ومشان","p":"۲/۰۵- %"},
{"x0":796,"x1":834,"y0":591,"y1":625,"c":-0.86,"n":"ولساپا","p":"۰/۸۶- %"},
{"x0":838,"x1":866,"y0":550,"y1":590,"c":0,"n":"وایران","p":"۰ %"},
{"x0":838,"x1":866,"y0":594,"y1":625,"c":-2.06,"n":"وشهر","p":"۲/۰۶- %"},
{"x0":870,"x1":893,"y0":550,"y1":577,"c":3},
{"x0":896,"x1":912,"y0":550,"y1":577,"c":-3},
{"x0":870,"x1":892,"y0":581,"y1":594,"c":-3},
{"x0":896,"x1":913,"y0":581,"y1":594,"c":-3},
{"x0":870,"x1":883,"y0":597,"y1":610,"c":0},
{"x0":886,"x1":899,"y0":597,"y1":610,"c":0},
{"x0":902,"x1":913,"y0":597,"y1":610,"c":1.5},
{"x0":870,"x1":883,"y0":613,"y1":625,"c":3},
{"x0":886,"x1":894,"y0":612,"y1":625,"c":0},
{"x0":898,"x1":904,"y0":612,"y1":625,"c":5},
{"x0":907,"x1":913,"y0":612,"y1":625,"c":0},

{"x0":796,"x1":841,"y0":642,"y1":710,"c":-6.28,"n":"کچاد","p":"۶/۲۸- %"},
{"x0":796,"x1":841,"y0":714,"y1":754,"c":-1.44,"n":"فزر","p":"۱/۴۴- %"},
{"x0":844,"x1":878,"y0":642,"y1":686,"c":-2,"n":"ومعادن","p":"۲/۰- %"},
{"x0":881,"x1":913,"y0":642,"y1":686,"c":-2.33,"n":"کاما","p":"۲/۳۳- %"},
{"x0":844,"x1":867,"y0":689,"y1":710,"c":-5},
{"x0":870,"x1":889,"y0":690,"y1":710,"c":-3},
{"x0":893,"x1":913,"y0":690,"y1":710,"c":-3},
{"x0":844,"x1":866,"y0":713,"y1":733,"c":-3},
{"x0":870,"x1":888,"y0":713,"y1":733,"c":3},
{"x0":892,"x1":913,"y0":713,"y1":725,"c":1.5},
{"x0":844,"x1":867,"y0":736,"y1":754,"c":0},
{"x0":870,"x1":888,"y0":737,"y1":754,"c":-3},
{"x0":891,"x1":901,"y0":729,"y1":747,"c":-1.5},
{"x0":903,"x1":913,"y0":729,"y1":747,"c":-3},
{"x0":891,"x1":913,"y0":750,"y1":754,"c":-3},

{"x0":920,"x1":987,"y0":348,"y1":448,"c":-1.26,"n":"شستا","p":"۱/۲۶- %"},
{"x0":990,"x1":1048,"y0":348,"y1":401,"c":0.08,"n":"وامید","p":"۰/۰۸+ %"},
{"x0":990,"x1":1018,"y0":404,"y1":448,"c":-0.84,"n":"وغدیر","p":"۰/۸۴- %"},
{"x0":1021,"x1":1047,"y0":404,"y1":442,"c":-0.3,"n":"وبانک","p":"۰/۳- %"},
{"x0":1021,"x1":1047,"y0":445,"y1":448,"c":-1.5},

{"x0":1054,"x1":1098,"y0":348,"y1":414,"c":1.35,"n":"دانا","p":"۱/۳۵+ %"},
{"x0":1054,"x1":1098,"y0":417,"y1":448,"c":0.19,"n":"بپاس","p":"۰/۱۹+ %"},
{"x0":1102,"x1":1139,"y0":348,"y1":378,"c":1.59,"n":"وحافظ","p":"۱/۵۹+ %"},
{"x0":1143,"x1":1173,"y0":348,"y1":378,"c":3,"n":"اتکاسا","p":"۳+ %"},
{"x0":1102,"x1":1124,"y0":382,"y1":415,"c":-1.5},
{"x0":1127,"x1":1150,"y0":382,"y1":409,"c":0},
{"x0":1153,"x1":1172,"y0":382,"y1":409,"c":1.5},
{"x0":1102,"x1":1124,"y0":418,"y1":448,"c":1.5},
{"x0":1127,"x1":1139,"y0":412,"y1":430,"c":-3},
{"x0":1143,"x1":1158,"y0":412,"y1":422,"c":0},
{"x0":1162,"x1":1173,"y0":412,"y1":422,"c":-1.5},
{"x0":1127,"x1":1139,"y0":433,"y1":448,"c":-3},
{"x0":1143,"x1":1152,"y0":425,"y1":438,"c":-3},
{"x0":1156,"x1":1165,"y0":425,"y1":433,"c":-3},
{"x0":1168,"x1":1173,"y0":425,"y1":433,"c":-3},
{"x0":1143,"x1":1152,"y0":441,"y1":448,"c":-3},
{"x0":1156,"x1":1165,"y0":436,"y1":442,"c":-3},
{"x0":1168,"x1":1173,"y0":436,"y1":442,"c":0},
{"x0":1156,"x1":1165,"y0":445,"y1":448,"c":-3},

{"x0":1180,"x1":1222,"y0":348,"y1":402,"c":6.92,"n":"تاپکیش","p":"۶/۹۲+ %"},
{"x0":1180,"x1":1222,"y0":407,"y1":448,"c":6.92,"n":"مفاخر","p":"۶/۹۲+ %"},
{"x0":1225,"x1":1253,"y0":348,"y1":392,"c":1.5},
{"x0":1257,"x1":1275,"y0":348,"y1":392,"c":5},
{"x0":1226,"x1":1253,"y0":396,"y1":422,"c":-3},
{"x0":1257,"x1":1277,"y0":396,"y1":422,"c":0},
{"x0":1226,"x1":1248,"y0":425,"y1":448,"c":0},
{"x0":1251,"x1":1262,"y0":425,"y1":438,"c":-3},
{"x0":1265,"x1":1277,"y0":425,"y1":429,"c":-3},
{"x0":1265,"x1":1277,"y0":433,"y1":438,"c":-3},
{"x0":1251,"x1":1262,"y0":441,"y1":448,"c":0},
{"x0":1265,"x1":1269,"y0":441,"y1":448,"c":-3},
{"x0":1272,"x1":1277,"y0":441,"y1":445,"c":0},

{"x0":920,"x1":970,"y0":467,"y1":552,"c":-20.49,"n":"پلاست","p":"۲۰/۴۹- %"},
{"x0":973,"x1":1000,"y0":467,"y1":498,"c":-3},
{"x0":1003,"x1":1024,"y0":467,"y1":498,"c":-3},
{"x0":973,"x1":996,"y0":502,"y1":525,"c":-3},
{"x0":999,"x1":1012,"y0":502,"y1":522,"c":3},
{"x0":1015,"x1":1025,"y0":502,"y1":522,"c":0},
{"x0":973,"x1":996,"y0":529,"y1":552,"c":-3},
{"x0":999,"x1":1012,"y0":525,"y1":541,"c":-1.5},
{"x0":1016,"x1":1025,"y0":525,"y1":541,"c":1.5},
{"x0":998,"x1":1016,"y0":544,"y1":552,"c":0},
{"x0":1019,"x1":1025,"y0":544,"y1":552,"c":0},

{"x0":1032,"x1":1115,"y0":467,"y1":516,"c":3,"n":"فجوش","p":"۳+ %"},
{"x0":1032,"x1":1052,"y0":520,"y1":557,"c":-3},
{"x0":1056,"x1":1081,"y0":520,"y1":543,"c":-3},
{"x0":1084,"x1":1098,"y0":520,"y1":538,"c":-1.5},
{"x0":1101,"x1":1115,"y0":520,"y1":538,"c":1.5},
{"x0":1056,"x1":1081,"y0":547,"y1":557,"c":5},
{"x0":1084,"x1":1098,"y0":542,"y1":557,"c":-1.5},
{"x0":1101,"x1":1115,"y0":541,"y1":550,"c":0},
{"x0":1101,"x1":1115,"y0":553,"y1":557,"c":1.5},

{"x0":1121,"x1":1201,"y0":467,"y1":541,"c":-0.28,"n":"اخابر","p":"-۰/۲۸ %"},
{"x0":1121,"x1":1201,"y0":544,"y1":557,"c":-3},
{"x0":1207,"x1":1274,"y0":467,"y1":557,"c":-1.24,"n":"وملی","p":"۱/۲۴- %"},

{"x0":920,"x1":971,"y0":570,"y1":654,"c":2.79,"n":"گشان","p":"۲/۷۹+ %"},
{"x0":975,"x1":1025,"y0":570,"y1":620,"c":1.58,"n":"سمگا","p":"۱/۵۸+ %"},
{"x0":975,"x1":1008,"y0":623,"y1":654,"c":8.53,"n":"گکیش","p":"۸/۵۳+ %"},
{"x0":1011,"x1":1025,"y0":623,"y1":648,"c":-3},
{"x0":1011,"x1":1025,"y0":651,"y1":654,"c":-3},

{"x0":920,"x1":945,"y0":673,"y1":719,"c":-5},
{"x0":920,"x1":945,"y0":722,"y1":753,"c":-5},
{"x0":948,"x1":976,"y0":673,"y1":695,"c":5},
{"x0":979,"x1":1004,"y0":673,"y1":695,"c":0},
{"x0":1007,"x1":1027,"y0":673,"y1":695,"c":-3},
{"x0":948,"x1":968,"y0":698,"y1":715,"c":-3},
{"x0":971,"x1":989,"y0":698,"y1":713,"c":3},
{"x0":992,"x1":1008,"y0":698,"y1":713,"c":-3},
{"x0":1011,"x1":1025,"y0":698,"y1":713,"c":-1.5},
{"x0":948,"x1":968,"y0":719,"y1":735,"c":0},
{"x0":971,"x1":983,"y0":716,"y1":733,"c":-1.5},
{"x0":986,"x1":997,"y0":716,"y1":733,"c":1.5},
{"x0":1000,"x1":1012,"y0":716,"y1":728,"c":0},
{"x0":1015,"x1":1025,"y0":716,"y1":728,"c":1.5},
{"x0":948,"x1":968,"y0":738,"y1":753,"c":1.5},
{"x0":971,"x1":983,"y0":736,"y1":753,"c":5},
{"x0":986,"x1":997,"y0":736,"y1":753,"c":-3},
{"x0":1000,"x1":1012,"y0":732,"y1":741,"c":-1.5},
{"x0":1000,"x1":1012,"y0":744,"y1":753,"c":-1.5},
{"x0":1015,"x1":1022,"y0":743,"y1":753,"c":0},

{"x0":1032,"x1":1071,"y0":575,"y1":606,"c":-1.79,"n":"مبین","p":"۱/۷۹- %"},
{"x0":1075,"x1":1095,"y0":575,"y1":606,"c":1.5},
{"x0":1032,"x1":1055,"y0":609,"y1":634,"c":-1.5},
{"x0":1058,"x1":1076,"y0":609,"y1":634,"c":-5},
{"x0":1079,"x1":1096,"y0":609,"y1":634,"c":0},
{"x0":1032,"x1":1055,"y0":636,"y1":655,"c":-3},
{"x0":1058,"x1":1068,"y0":636,"y1":655,"c":-1.5},
{"x0":1072,"x1":1086,"y0":636,"y1":646,"c":-1.5},
{"x0":1089,"x1":1095,"y0":636,"y1":646,"c":-3},
{"x0":1072,"x1":1086,"y0":648,"y1":655,"c":-3},
{"x0":1089,"x1":1095,"y0":648,"y1":655,"c":0},
{"x0":1032,"x1":1094,"y0":674,"y1":702,"c":-1.6,"n":"کترام","p":"۱/۶- %"},
{"x0":1032,"x1":1058,"y0":705,"y1":731,"c":-1.52,"n":"کصدف","p":"۱/۵۲- %"},
{"x0":1061,"x1":1077,"y0":705,"y1":731,"c":-3},
{"x0":1080,"x1":1095,"y0":705,"y1":731,"c":0},
{"x0":1032,"x1":1058,"y0":734,"y1":753,"c":-1.5},
{"x0":1061,"x1":1077,"y0":733,"y1":753,"c":-3},
{"x0":1080,"x1":1094,"y0":733,"y1":745,"c":0},
{"x0":1080,"x1":1094,"y0":747,"y1":753,"c":-3},

{"x0":1101,"x1":1127,"y0":575,"y1":604,"c":3},
{"x0":1130,"x1":1150,"y0":575,"y1":597,"c":0},
{"x0":1153,"x1":1163,"y0":575,"y1":597,"c":0},
{"x0":1130,"x1":1145,"y0":601,"y1":613,"c":1.5},
{"x0":1149,"x1":1163,"y0":601,"y1":613,"c":0},
{"x0":1101,"x1":1127,"y0":608,"y1":634,"c":-3,"n":"وتوشه","p":"۳- %"},
{"x0":1130,"x1":1143,"y0":617,"y1":625,"c":-3},
{"x0":1146,"x1":1153,"y0":617,"y1":625,"c":3},
{"x0":1155,"x1":1162,"y0":617,"y1":625,"c":-1.5},
{"x0":1130,"x1":1143,"y0":628,"y1":635,"c":-1.5},
{"x0":1146,"x1":1153,"y0":628,"y1":635,"c":0},
{"x0":1155,"x1":1162,"y0":628,"y1":635,"c":0},

{"x0":1101,"x1":1122,"y0":652,"y1":696,"c":3},
{"x0":1125,"x1":1156,"y0":652,"y1":682,"c":-0.79,"n":"چکاپا","p":"۰/۷۹- %"},
{"x0":1125,"x1":1150,"y0":686,"y1":696,"c":-3},
{"x0":1153,"x1":1156,"y0":686,"y1":696,"c":-3},
{"x0":1101,"x1":1147,"y0":715,"y1":753,"c":4.82,"n":"افق","p":"۴/۸۲+ %"},
{"x0":1151,"x1":1156,"y0":715,"y1":753,"c":0},

{"x0":1169,"x1":1225,"y0":575,"y1":613,"c":2.89,"n":"خفولا","p":"۲/۸۹+ %"},
{"x0":1169,"x1":1208,"y0":617,"y1":633,"c":-3},
{"x0":1211,"x1":1226,"y0":617,"y1":622,"c":-3},
{"x0":1211,"x1":1216,"y0":626,"y1":633,"c":-3},
{"x0":1219,"x1":1225,"y0":626,"y1":633,"c":0},
{"x0":1232,"x1":1256,"y0":575,"y1":598,"c":-3},
{"x0":1259,"x1":1277,"y0":575,"y1":598,"c":0},
{"x0":1232,"x1":1256,"y0":602,"y1":618,"c":3},
{"x0":1259,"x1":1277,"y0":602,"y1":611,"c":0},
{"x0":1232,"x1":1254,"y0":622,"y1":634,"c":0},
{"x0":1257,"x1":1265,"y0":614,"y1":625,"c":-3},
{"x0":1267,"x1":1275,"y0":614,"y1":625,"c":0},
{"x0":1257,"x1":1270,"y0":628,"y1":634,"c":0},
{"x0":1274,"x1":1276,"y0":628,"y1":634,"c":5},

{"x0":1163,"x1":1205,"y0":652,"y1":677,"c":0},
{"x0":1208,"x1":1233,"y0":652,"y1":672,"c":0},
{"x0":1208,"x1":1233,"y0":674,"y1":677,"c":1.5},
{"x0":1239,"x1":1269,"y0":652,"y1":677,"c":5},
{"x0":1272,"x1":1275,"y0":652,"y1":667,"c":-3},
{"x0":1163,"x1":1174,"y0":695,"y1":716,"c":1.5},
{"x0":1177,"x1":1196,"y0":695,"y1":704,"c":-1.5},
{"x0":1177,"x1":1185,"y0":707,"y1":716,"c":-1.5},
{"x0":1188,"x1":1196,"y0":707,"y1":716,"c":1.5},
{"x0":1202,"x1":1227,"y0":695,"y1":715,"c":0},
{"x0":1233,"x1":1255,"y0":695,"y1":715,"c":-5},
{"x0":1262,"x1":1275,"y0":695,"y1":715,"c":1.5},
{"x0":1163,"x1":1197,"y0":735,"y1":753,"c":0}
],
"titles":[
{"t":"نقشه بازار","x":641,"y":6},
{"t":"خودرو و قطعات","x":218,"y":18.5},
{"t":"فلزات اساسی","x":538,"y":18.5},
{"t":"بانکها و موسسات اعتباری","x":754,"y":18.5},
{"t":"فرآورده های نفتی","x":975,"y":18.5},
{"t":"سیمان آهک گچ","x":1183,"y":18.5},
{"t":"انبوه سازی املاک و مستغلات","x":719,"y":189},
{"t":"زراعت و خدمات وابسته","x":886,"y":189},
{"t":"دارویی","x":1048,"y":189},
{"t":"حمل و نقل انبارداری و ارتباطات","x":1203,"y":189},
{"t":"غذایی بجز قند وشکر","x":538,"y":320},
{"t":"قند و شکر","x":856,"y":339},
{"t":"چندرشته ای صنعتی","x":985,"y":339},
{"t":"بیمه و بازنشستگی","x":1115,"y":339},
{"t":"رایانه","x":1230,"y":339},
{"t":"فعالیتهای کمکی به نهاد های مالی","x":717,"y":386},
{"t":"شیمیایی","x":218,"y":421},
{"t":"لاستیک و پلاستیک","x":973,"y":457},
{"t":"محصولات فلزی","x":1074,"y":457},
{"t":"مخابرات","x":1162,"y":457},
{"t":"محصولات چرمی","x":1242,"y":457},
{"t":"واسطه گریهای مالی و پولی","x":855,"y":488},
{"t":"اطلاعات و ارتباطات","x":538,"y":561},
{"t":"هتل و رستوران","x":973,"y":562},
{"t":"عرضه","x":1063,"y":566},
{"t":"ماشین آلات و","x":1132,"y":566},
{"t":"فنی و مهندسی","x":1199,"y":566},
{"t":"دستگاههای","x":1253,"y":566},
{"t":"سرمایه گذاریها","x":719,"y":579},
{"t":"استخراج کانه های فلزی","x":851,"y":633},
{"t":"محصولات","x":1129,"y":643},
{"t":"وسایل ارتباطی","x":1199,"y":643},
{"t":"منسوجات","x":1257,"y":643},
{"t":"کانی غیر فلزی","x":973,"y":664},
{"t":"کاشی و سرامیک","x":1064,"y":664},
{"t":"استخراج","x":1179,"y":686},
{"t":"استخرا محصوا","x":1229,"y":686},
{"t":"استه","x":1270,"y":686},
{"t":"خرده فروشی","x":1130,"y":706},
{"t":"فعالیتهای","x":1177,"y":722},
{"t":"محصولا","x":1212,"y":724}
],
"legend":[
{"x0":48,"x1":90,"y0":768,"y1":788,"c":-5,"t":"-۴"},
{"x0":90,"x1":131.5,"y0":768,"y1":788,"c":-3,"t":"-۲"},
{"x0":131.5,"x1":173,"y0":768,"y1":788,"c":-1.5,"t":"-۱"},
{"x0":173,"x1":215,"y0":768,"y1":788,"c":0,"t":""},
{"x0":215,"x1":256,"y0":768,"y1":788,"c":1.5,"t":"۱"},
{"x0":256,"x1":298,"y0":768,"y1":788,"c":3,"t":"۲"},
{"x0":298,"x1":340,"y0":768,"y1":788,"c":5,"t":"۴"}
],
"foot":[
{"t":"- بازدهی","x":40,"y":778},
{"t":"+ بازدهی","x":386,"y":778},
{"t":":آخرین سامانه","x":1275,"y":773}
],
"stamp":[{"t":"۱۴۰۱/۰۶/۱۶ - ۱۷:۲۴:۵۹","x":1214,"y":773}],
"brand1":[{"t":"۳۶۵","x":1181,"y":732}],
"brand2":[{"t":"ره‌آورد","x":1197,"y":749}],
"logo":[{"x":1247,"y":738}],
"band":[{"x0":1226,"x1":1268,"y0":726,"y1":735}]
},
"encoding":{},
"layer":[
{"data":{"name":"panel"},"mark":{"type":"rect","color":"#333333"},"encoding":{
"x":{"field":"x0","type":"quantitative","scale":{"domain":[0,1280],"nice":false,"zero":false},"axis":null},"x2":{"field":"x1"},
"y":{"field":"y0","type":"quantitative","scale":{"domain":[801,0],"nice":false,"zero":false},"axis":null},"y2":{"field":"y1"}}},
{"data":{"name":"cells"},"mark":{"type":"rect"},"encoding":{
"x":{"field":"x0","type":"quantitative"},"x2":{"field":"x1"},
"y":{"field":"y0","type":"quantitative"},"y2":{"field":"y1"},
"color":{"field":"c","type":"quantitative","legend":null,"scale":{"type":"threshold","domain":[-4.2,-2,-1,1,2,4],"range":["#D62B4D","#962B40","#7A3D4F","#4A4350","#356956","#1C8A5E","#00AD62"]}}}},
{"data":{"name":"cells"},"transform":[{"filter":"datum.n"},{"calculate":"min(datum.x1-datum.x0,datum.y1-datum.y0)","as":"m"},{"calculate":"(datum.x0+datum.x1)/2","as":"mx"},{"calculate":"(datum.y0+datum.y1)/2-2.5-0.095*datum.m","as":"ny"}],"mark":{"type":"text","color":"#ffffff","stroke":"#ffffff","strokeWidth":0.15,"font":"DejaVu Sans","baseline":"middle","align":"center"},"encoding":{
"x":{"field":"mx","type":"quantitative"},"y":{"field":"ny","type":"quantitative"},"text":{"field":"n"},
"size":{"field":"m","type":"quantitative","legend":null,"scale":{"type":"linear","domain":[18,45,105,151,161,186],"range":[6,9.5,16,23,30,31],"zero":false}}}},
{"data":{"name":"cells"},"transform":[{"filter":"datum.n"},{"calculate":"min(datum.x1-datum.x0,datum.y1-datum.y0)","as":"m2"},{"calculate":"(datum.x0+datum.x1)/2","as":"mx"},{"calculate":"(datum.y0+datum.y1)/2+2.5+0.095*datum.m2","as":"py"}],"mark":{"type":"text","color":"#ffffff","stroke":"#ffffff","strokeWidth":0.1,"font":"DejaVu Sans","baseline":"middle","align":"center"},"encoding":{
"x":{"field":"mx","type":"quantitative"},"y":{"field":"py","type":"quantitative"},"text":{"field":"p"},
"size":{"field":"m2","type":"quantitative","legend":null,"scale":{"type":"linear","domain":[18,45,81,105,151,161,186],"range":[4,5.2,7.3,8.7,12,13.5,15],"zero":false}}}},
{"data":{"name":"titles"},"mark":{"type":"text","color":"#ffffff","stroke":"#ffffff","strokeWidth":0.2,"font":"DejaVu Sans","fontSize":9.5,"baseline":"middle","align":"center"},"encoding":{"x":{"field":"x","type":"quantitative"},"y":{"field":"y","type":"quantitative"},"text":{"field":"t"}}},
{"data":{"name":"legend"},"mark":{"type":"rect"},"encoding":{"x":{"field":"x0","type":"quantitative"},"x2":{"field":"x1"},"y":{"field":"y0","type":"quantitative"},"y2":{"field":"y1"},"color":{"field":"c","type":"quantitative","legend":null,"scale":{"type":"threshold","domain":[-4.2,-2,-1,1,2,4],"range":["#D62B4D","#962B40","#7A3D4F","#4A4350","#356956","#1C8A5E","#00AD62"]}}}},
{"data":{"name":"legend"},"transform":[{"calculate":"(datum.x0+datum.x1)/2","as":"mx"},{"calculate":"(datum.y0+datum.y1)/2","as":"my"}],"mark":{"type":"text","color":"#ffffff","stroke":"#ffffff","strokeWidth":0.2,"font":"DejaVu Sans","fontSize":10,"baseline":"middle","align":"center"},"encoding":{"x":{"field":"mx","type":"quantitative"},"y":{"field":"my","type":"quantitative"},"text":{"field":"t"}}},
{"data":{"name":"foot"},"mark":{"type":"text","color":"#555555","font":"DejaVu Sans","fontSize":10,"baseline":"middle","align":"right"},"encoding":{"x":{"field":"x","type":"quantitative"},"y":{"field":"y","type":"quantitative"},"text":{"field":"t"}}},
{"data":{"name":"stamp"},"mark":{"type":"text","color":"#555555","font":"DejaVu Sans","fontSize":8.8,"baseline":"middle","align":"right"},"encoding":{"x":{"field":"x","type":"quantitative"},"y":{"field":"y","type":"quantitative"},"text":{"field":"t"}}},
{"data":{"name":"logo"},"mark":{"type":"point","filled":true,"opacity":0.95,"color":"#ececec","size":2809,"shape":"M-0.85,-0.35 C-0.85,-0.8 -0.4,-1 0,-1 C0.4,-1 0.85,-0.8 0.85,-0.35 C0.85,0.2 0.3,0.6 0.1,1 L-0.1,1 C-0.3,0.6 -0.85,0.2 -0.85,-0.35 Z"},"encoding":{"x":{"field":"x","type":"quantitative"},"y":{"field":"y","type":"quantitative"}}},
{"data":{"name":"band"},"mark":{"type":"rect","color":"#2B79C2"},"encoding":{"x":{"field":"x0","type":"quantitative"},"x2":{"field":"x1"},"y":{"field":"y0","type":"quantitative"},"y2":{"field":"y1"}}},
{"data":{"name":"brand1"},"mark":{"type":"text","color":"#ffffff","font":"DejaVu Sans","fontWeight":"bold","fontSize":12,"baseline":"middle","align":"center"},"encoding":{"x":{"field":"x","type":"quantitative"},"y":{"field":"y","type":"quantitative"},"text":{"field":"t"}}},
{"data":{"name":"brand2"},"mark":{"type":"text","color":"#ffffff","font":"DejaVu Sans","fontWeight":"bold","fontSize":17,"baseline":"middle","align":"center"},"encoding":{"x":{"field":"x","type":"quantitative"},"y":{"field":"y","type":"quantitative"},"text":{"field":"t"}}}
]}
